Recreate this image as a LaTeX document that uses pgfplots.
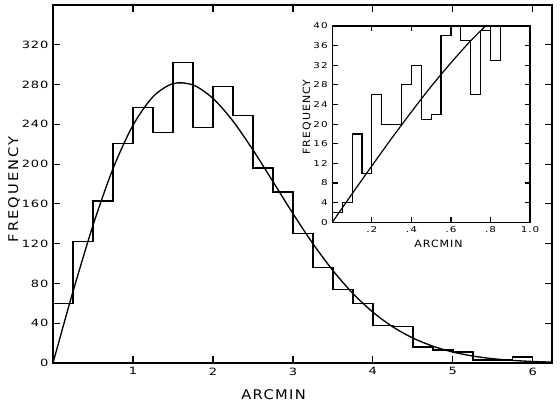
\documentclass[border=0pt]{standalone}
\usepackage{fontspec}
\setmainfont{DejaVu Sans}
\usepackage{pgfplots}
\pgfplotsset{compat=1.18}
\begin{document}
\begin{tikzpicture}
\begin{axis}[name=main, scale only axis, width=374.25pt, height=268.5pt,
 xmin=0, xmax=6.24, ymin=0, ymax=360,
 xtick={1,2,3,4,5,6}, ytick={0,40,...,320},
 tick align=inside, tick pos=both, xticklabel pos=lower, yticklabel pos=left,
 major tick length=5pt,
 axis line style={line width=1.2pt},
 every tick/.style={black, line width=0.9pt},
 /pgf/number format/assume math mode=true,
 tick label style={font=\fontsize{7.5}{9}\selectfont\addfontfeature{FakeStretch=1.3,LetterSpace=8}},
 xlabel={ARCMIN}, ylabel={FREQUENCY},
 xlabel style={at={(axis description cs:0.442,-0.089)}, anchor=center,
   font=\fontsize{10}{12}\selectfont\addfontfeature{FakeStretch=1.1,LetterSpace=10}},
 ylabel style={at={(axis description cs:-0.078,0.485)}, anchor=center,
   font=\fontsize{10}{12}\selectfont\addfontfeature{FakeStretch=1.1,LetterSpace=15}},
]
\addplot[const plot mark left, black, line width=1pt] coordinates {
(0,0)(0,60)(0.25,122)(0.5,163)(0.75,221)(1,257)(1.25,232)(1.5,302)(1.75,237)
(2,278)(2.25,249)(2.5,196)(2.75,172)(3,130)(3.25,96)(3.5,74)(3.75,60)(4,38)
(4.25,37)(4.5,16)(4.75,13)(5,11)(5.25,3)(5.5,3)(5.75,6)(6,0)(6.24,0)};
\addplot[smooth, black, line width=1pt] coordinates {
(0,0)(0.125,36.2)(0.25,71.8)(0.5,138.4)(0.75,195.3)(1,239.0)(1.25,267.7)(1.5,280.9)
(1.75,279.6)(2,266.1)(2.25,243.3)(2.5,214.3)(2.75,182.5)(3,150.3)(3.25,120.0)
(3.5,93.0)(3.75,69.9)(4,51.1)(4.25,36.3)(4.5,25.1)(4.75,16.9)(5,11.0)(5.25,7.0)
(5.5,4.3)(5.75,2.6)(6,1.5)(6.24,0.9)};
\end{axis}
\begin{axis}[at={(main.north west)}, anchor=north west, xshift=209.5pt, yshift=-15.75pt,
 scale only axis, width=148.3pt, height=147.2pt,
 xmin=0, xmax=1, ymin=0, ymax=40,
 xtick={0.2,0.4,0.6,0.8,1.0}, xticklabels={.2,.4,.6,.8,1.0},
 ytick={0,4,...,40},
 tick align=inside, tick pos=both, xticklabel pos=lower, yticklabel pos=left,
 major tick length=4pt,
 axis background/.style={fill=white},
 axis line style={line width=1pt},
 every tick/.style={black, line width=0.8pt},
 /pgf/number format/assume math mode=true,
 tick label style={font=\fontsize{6}{7}\selectfont\addfontfeature{FakeStretch=1.3,LetterSpace=12}},
 xlabel={ARCMIN}, ylabel={FREQUENCY},
 xlabel style={at={(axis description cs:0.537,-0.11)}, anchor=center,
   font=\fontsize{7.5}{9}\selectfont\addfontfeature{FakeStretch=1.1,LetterSpace=10}},
 ylabel style={at={(axis description cs:-0.128,0.536)}, anchor=center,
   font=\fontsize{7.5}{9}\selectfont\addfontfeature{FakeStretch=1.1,LetterSpace=10}},
]
\addplot[const plot mark left, black, line width=0.9pt] coordinates {
(0,0)(0,2)(0.05,4)(0.1,18)(0.15,10)(0.2,26)(0.25,20)(0.3,20)(0.35,28)(0.4,32)
(0.45,21)(0.5,22)(0.55,38)(0.6,45)(0.65,37)(0.7,26)(0.75,39)(0.8,33)(0.85,50)(1.0,50)};
\addplot[smooth, black, line width=0.9pt] coordinates {
(0,0)(0.1,5.8)(0.2,11.5)(0.3,17.1)(0.4,22.5)(0.5,27.7)(0.6,32.5)(0.7,37.0)(0.8,41.0)};
\end{axis}
\path ([xshift=-39.75pt,yshift=-30pt]main.south west) rectangle ([xshift=6pt,yshift=3.75pt]main.north east);
\end{tikzpicture}
\end{document}
